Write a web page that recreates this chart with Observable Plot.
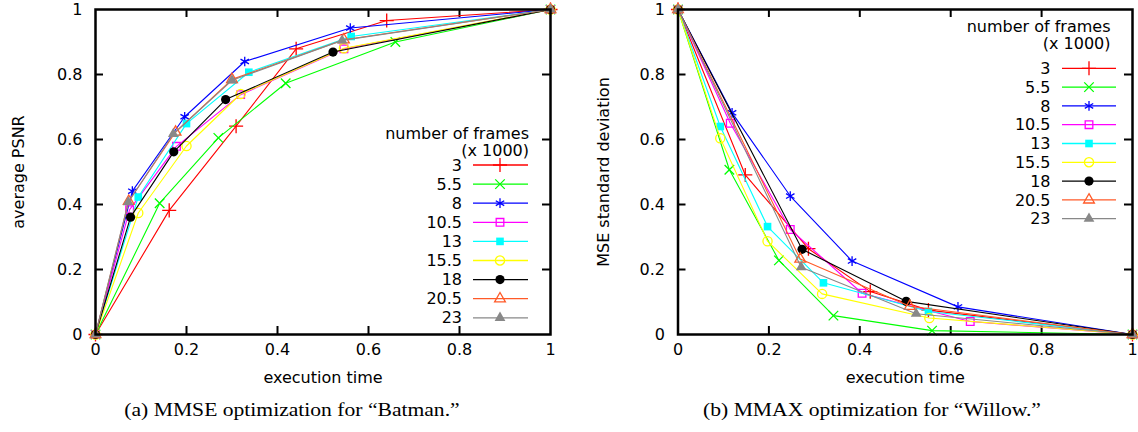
<!DOCTYPE html>
<html><head><meta charset="utf-8">
<script src="https://cdn.jsdelivr.net/npm/d3@7"></script>
<script src="https://cdn.jsdelivr.net/npm/@observablehq/plot@0.6"></script>
<style>
body{margin:0;background:#fff;}
#wrap{position:relative;width:1138px;height:432px;overflow:hidden;background:#fff}
.panel{position:absolute;top:0}
.cap{position:absolute;top:400px;font-family:"Liberation Serif","Times New Roman",serif;font-size:18px;white-space:nowrap;transform:translateX(-50%) scaleX(1.2);transform-origin:center;color:#000}
</style></head>
<body>
<div id="wrap">
  <div id="left" class="panel" style="left:0"></div>
  <div id="right" class="panel" style="left:569px"></div>
  <div class="cap" style="left:292px">(a) MMSE optimization for “Batman.”</div>
  <div class="cap" style="left:872px">(b) MMAX optimization for “Willow.”</div>
</div>
<script>
// ---- series definitions ----
const seriesNames   = ["3","5.5","8","10.5","13","15.5","18","20.5","23"];
const seriesColors  = ["#ff0000","#00ff00","#0000ff","#ff00ff","#00ffff","#ffff00","#000000","#ff5a28","#888888"];
const seriesSymbols = ["plus","times","asterisk","square","square","circle","circle","triangle","triangle"];
const seriesFilled  = [false,false,true,false,true,false,true,false,true];

const legendTitle = "number of frames";
const legendSub = "(x 1000)";
const xTicks = [0,0.2,0.4,0.6,0.8,1];
const yTicks = [0,0.2,0.4,0.6,0.8,1];
const innerTicks = [0.2,0.4,0.6,0.8];

// ---- (a) MMSE optimization for Batman: execution time vs average PSNR ----
const batmanTime = [
  [0,0.162,0.309,0.441,0.640,1],
  [0,0.141,0.270,0.418,0.659,1],
  [0,0.081,0.196,0.328,0.560,1],
  [0,0.075,0.178,0.319,0.546,1],
  [0,0.094,0.200,0.337,0.562,1],
  [0,0.094,0.200,0.319,0.546,1],
  [0,0.077,0.172,0.286,0.522,1],
  [0,0.073,0.176,0.300,0.546,1],
  [0,0.072,0.171,0.300,0.542,1]
];
const batmanPSNR = [
  [0,0.382,0.641,0.879,0.966,1],
  [0,0.404,0.605,0.773,0.900,1],
  [0,0.441,0.670,0.840,0.943,1],
  [0,0.384,0.579,0.738,0.879,1],
  [0,0.423,0.649,0.807,0.917,1],
  [0,0.374,0.580,0.740,0.881,1],
  [0,0.361,0.562,0.723,0.869,1],
  [0,0.410,0.623,0.785,0.907,1],
  [0,0.407,0.617,0.782,0.905,1]
];

// ---- (b) MMAX optimization for Willow: execution time vs MSE std dev ----
const willowTime = [
  [0,0.148,0.287,0.423,0.551,1],
  [0,0.113,0.222,0.342,0.559,1],
  [0,0.119,0.247,0.383,0.616,1],
  [0,0.115,0.247,0.405,0.643,1],
  [0,0.093,0.197,0.320,0.551,1],
  [0,0.093,0.197,0.317,0.553,1],
  [0,0.273,0.502,1],
  [0,0.269,0.510,1],
  [0,0.271,0.524,1]
];
const willowStd = [
  [1,0.491,0.264,0.132,0.075,0],
  [1,0.507,0.228,0.058,0.012,0],
  [1,0.682,0.426,0.226,0.085,0],
  [1,0.650,0.323,0.127,0.040,0],
  [1,0.640,0.332,0.159,0.071,0],
  [1,0.604,0.287,0.125,0.051,0],
  [1,0.262,0.102,0],
  [1,0.232,0.087,0],
  [1,0.207,0.064,0]
];

const symMap = {plus:d3.symbolPlus, times:d3.symbolTimes, asterisk:d3.symbolAsterisk,
  square:d3.symbolSquare, circle:d3.symbolCircle, triangle:d3.symbolTriangle};
const symR = {plus:4.6, times:4.4, asterisk:4.6, square:4.3, circle:4.6, triangle:4.0};

function chart(o){
  const W=569, H=390, mt=9, mb=56;
  const pw=W-o.ml-o.mr, ph=H-mt-mb;
  const tlx=8/ph, tly=8/pw;
  const marks=[];
  marks.push(Plot.ruleX(innerTicks,{x:d=>d,y1:0,y2:tlx,strokeWidth:2}));
  marks.push(Plot.ruleX(innerTicks,{x:d=>d,y1:1,y2:1-tlx,strokeWidth:2}));
  marks.push(Plot.ruleY(innerTicks,{y:d=>d,x1:0,x2:tly,strokeWidth:2}));
  marks.push(Plot.ruleY(innerTicks,{y:d=>d,x1:1,x2:1-tly,strokeWidth:2}));
  for(let i=0;i<seriesNames.length;i++){
    const xs=o.xs[i], ys=o.ys[i], idx=d3.range(xs.length);
    const sym=seriesSymbols[i], f=seriesFilled[i]&&sym!=="asterisk";
    marks.push(Plot.line(idx,{x:xs,y:ys,stroke:seriesColors[i],strokeWidth:1.1}));
    marks.push(Plot.dot(idx,{x:xs,y:ys,symbol:sym,r:symR[sym],
      fill:f?seriesColors[i]:"none",stroke:f?"none":seriesColors[i],strokeWidth:1.3}));
  }
  marks.push(Plot.frame({stroke:"black",strokeWidth:2.5}));
  marks.push(Plot.axisX(xTicks,{tickSize:0,tickPadding:9,tickFormat:d=>String(d),label:null}));
  marks.push(Plot.axisY(yTicks,{tickSize:0,tickPadding:13,tickFormat:d=>String(d),label:null}));
  marks.push(Plot.text([o.xlabel],{text:d=>d,frameAnchor:"bottom",dy:48,textAnchor:"middle"}));
  marks.push(Plot.text([o.ylabel],{text:d=>d,frameAnchor:"left",dx:o.ylabelDx,rotate:-90,textAnchor:"middle"}));
  const svg = Plot.plot({
    width:W, height:H, marginTop:mt, marginBottom:mb, marginLeft:o.ml, marginRight:o.mr,
    x:{domain:[0,1]}, y:{domain:[0,1]},
    style:{fontFamily:"'DejaVu Sans', sans-serif", fontSize:"16px", background:"white", color:"black", overflow:"visible"},
    marks
  });
  // legend
  const L=o.legend, g=d3.select(svg).append("g");
  g.append("text").attr("x",L.hx).attr("y",L.hy).attr("text-anchor","end").attr("dy","0.35em").text(legendTitle);
  g.append("text").attr("x",L.hx).attr("y",L.hy+17).attr("text-anchor","end").attr("dy","0.35em").text(legendSub);
  seriesNames.forEach((n,i)=>{
    const y=L.y0+i*L.step, sym=seriesSymbols[i], f=seriesFilled[i]&&sym!=="asterisk";
    g.append("text").attr("x",L.lx).attr("y",y).attr("text-anchor","end").attr("dy","0.35em").text(n);
    g.append("line").attr("x1",L.x1).attr("x2",L.x2).attr("y1",y).attr("y2",y).attr("stroke",seriesColors[i]).attr("stroke-width",1.3);
    g.append("path").attr("transform",`translate(${L.mx},${y})`)
      .attr("d",d3.symbol(symMap[sym],Math.PI*symR[sym]*symR[sym])())
      .attr("fill",f?seriesColors[i]:"none").attr("stroke",f?"none":seriesColors[i]).attr("stroke-width",1.3);
  });
  return svg;
}

document.getElementById("left").appendChild(chart({
  xs:batmanTime, ys:batmanPSNR, ml:95, mr:19, xlabel:"execution time", ylabel:"average PSNR", ylabelDx:-77,
  legend:{hx:529,hy:133,lx:462,y0:165,step:19.1,x1:473,x2:528,mx:500}
}));
document.getElementById("right").appendChild(chart({
  xs:willowTime, ys:willowStd, ml:108.5, mr:6, xlabel:"execution time", ylabel:"MSE standard deviation", ylabelDx:-74,
  legend:{hx:541.5,hy:26,lx:481.5,y0:68.3,step:18.8,x1:493,x2:547,mx:520}
}));
</script>
</body></html>
